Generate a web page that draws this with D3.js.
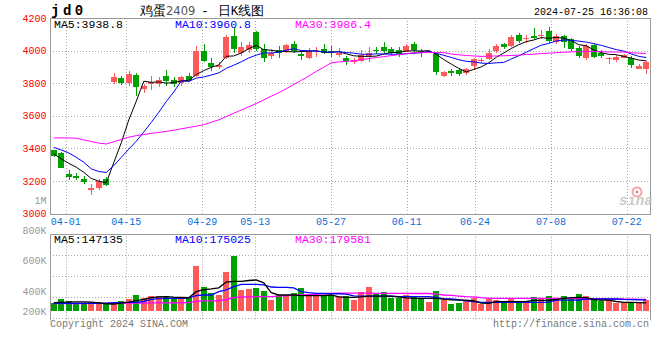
<!DOCTYPE html>
<html>
<head>
<meta charset="utf-8">
<script src="https://cdn.jsdelivr.net/npm/d3@7"></script>
<style>
  body { margin: 0; background: #fff; }
  svg { display: block; }
  text { font-family: "Liberation Mono", "DejaVu Sans Mono", monospace; }
</style>
</head>
<body>
<div id="chart"></div>
<script>
/* CONSTANTS AND GLOBALS */
const width = 660, height = 360;
const left = 50, right = 650;
const pTop = 18, pBottom = 213.5;      // price panel
const vTop = 234.3, vBottom = 318.3;   // volume panel
const vBase = 311;                      // volume bars start here

// DATA
const dates = ["03-28","03-29","04-01","04-02","04-03","04-08","04-09","04-10","04-11","04-12",
  "04-15","04-16","04-17","04-18","04-19","04-22","04-23","04-24","04-25","04-26",
  "04-29","04-30","05-06","05-07","05-08","05-09","05-10","05-13","05-14","05-15",
  "05-16","05-17","05-20","05-21","05-22","05-23","05-24","05-27","05-28","05-29",
  "05-30","05-31","06-03","06-04","06-05","06-06","06-07","06-11","06-12","06-13",
  "06-14","06-17","06-18","06-19","06-20","06-21","06-24","06-25","06-26","06-27",
  "06-28","07-01","07-02","07-03","07-04","07-05","07-08","07-09","07-10","07-11",
  "07-12","07-15","07-16","07-17","07-18","07-19","07-22","07-23","07-24","07-25"];

const open = [3388,3370,3245,3232,3213,3143,3155,3213,3808,3832,3802,3850,3765,3795,3792,3845,3820,3798,3845,3845,
  3995,3925,3897,3953,4090,3985,4003,4115,4012,3965,4002,3998,4038,3982,3953,3995,4010,3995,3972,3953,
  3932,3937,3968,4005,4025,4010,4005,3994,4038,3995,3993,3978,3846,3876,3880,3862,3903,3936,3947,3998,
  4039,4030,4096,4070,4090,4088,4120,4055,4090,4073,4015,3952,4035,3988,3948,3944,3957,3953,3890,3890];
const high = [3392,3378,3265,3248,3230,3180,3210,3223,3860,3845,3875,3865,3795,3845,3835,3878,3835,3845,3865,4030,
  4043,3955,3928,4094,4145,4055,4055,4120,4040,4008,4030,4042,4058,4002,4018,4023,4040,4030,4015,3968,
  3957,4002,4023,4022,4053,4022,4022,4040,4050,4008,4005,3988,3876,3886,3896,3895,3957,3955,4008,4043,
  4049,4094,4110,4094,4141,4125,4145,4100,4095,4080,4030,4040,4043,4002,3960,3973,3980,3967,3915,3937];
const low = [3345,3278,3205,3208,3182,3112,3142,3170,3795,3790,3785,3723,3738,3755,3778,3785,3775,3785,3805,3838,
  3930,3876,3886,3950,3988,3967,3988,4000,3928,3948,3955,3988,3985,3942,3947,3963,3978,3960,3963,3910,
  3917,3927,3927,3978,3988,3972,3962,3990,3988,3963,3985,3851,3835,3845,3845,3850,3880,3925,3941,3988,
  4008,4025,4049,4049,4070,4070,4049,4039,4015,3998,3953,3943,3957,3957,3917,3927,3955,3896,3888,3859];
const close = [3352,3280,3225,3218,3192,3158,3202,3172,3838,3802,3858,3775,3785,3805,3818,3815,3795,3835,3822,3998,
  3933,3897,3912,4085,4008,4022,4035,4012,3955,3988,3985,4032,3998,3965,4000,4000,3988,3990,3985,3937,
  3940,3972,3988,3995,3998,3985,3980,4028,4002,3990,3998,3866,3870,3863,3856,3890,3947,3943,3988,4029,
  4020,4084,4060,4080,4080,4095,4060,4090,4055,4008,3968,4028,3963,3968,3957,3960,3972,3910,3908,3930];

const ma5 = [3366,3335,3308,3284,3253,3215,3199,3188,3312,3434,3574,3689,3812,3805,3808,3800,3804,3814,3817,3853,
  3877,3897,3912,3965,3967,3985,4012,4032,4006,4002,3995,3994,3992,3994,3996,3999,3990,3989,3993,3980,
  3968,3965,3964,3966,3979,3988,3989,3997,3999,3997,4000,3977,3945,3917,3891,3869,3885,3900,3925,3959,
  3985,4013,4036,4055,4065,4080,4075,4081,4076,4062,4036,4030,4004,3987,3977,3975,3964,3954,3942,3937];
const ma10 = [3406,3390,3372,3345,3315,3274,3258,3252,3294,3344,3395,3444,3500,3559,3621,3687,3746,3813,3811,3831,
  3838,3850,3863,3891,3910,3931,3955,3972,3986,3985,3990,4003,4012,4000,3999,3997,3992,3990,3993,3988,
  3984,3978,3977,3980,3979,3978,3977,3981,3983,3988,3994,3983,3971,3958,3944,3934,3931,3923,3921,3925,
  3927,3949,3968,3990,4012,4033,4044,4059,4065,4063,4058,4052,4043,4032,4019,4006,3997,3979,3965,3957];
const ma30 = [3464,3464,3464,3462,3452,3442,3432,3427,3440,3455,3468,3478,3485,3492,3498,3504,3511,3520,3528,3536,
  3545,3560,3575,3595,3615,3635,3655,3675,3697,3720,3741,3766,3792,3817,3844,3872,3898,3925,3930,3934,
  3937,3944,3951,3957,3963,3969,3975,3981,3987,3987,3989,3988,3987,3979,3974,3970,3967,3964,3966,3967,
  3968,3970,3972,3976,3978,3982,3984,3987,3990,3992,3993,3995,3994,3993,3992,3991,3991,3987,3984,3982];

const volume = [143000,184000,165000,149000,149000,152000,152000,136000,139000,165000,
  184000,222000,196000,212000,212000,200000,184000,184000,200000,501000,
  301000,241000,222000,444000,596000,270000,279000,286000,260000,174000,
  222000,222000,241000,286000,212000,231000,212000,222000,212000,212000,
  174000,254000,301000,231000,248000,196000,196000,222000,200000,184000,
  158000,263000,174000,136000,149000,165000,196000,136000,184000,174000,
  165000,184000,165000,165000,206000,184000,215000,196000,215000,196000,
  231000,215000,184000,165000,174000,150000,142000,158000,148000,170000];

const volMa5 = [150000,152000,154000,156000,156000,154000,146000,138000,136000,145000,
  155000,169000,181000,196000,205000,206000,201000,198000,196000,254000,
  272000,280000,290000,345000,352000,352000,360000,365000,338000,245000,
  222000,222000,222000,216000,216000,216000,216000,222000,205000,200000,
  200000,205000,212000,212000,212000,212000,205000,195000,190000,190000,
  190000,190000,182000,176000,174000,174000,165000,145000,143000,158000,
  158000,158000,158000,160000,170000,171000,172000,180000,190000,196000,
  198000,196000,178000,174000,174000,160000,152000,152000,150000,147000];
const volMa10 = [143000,143000,143000,143000,143000,143000,143000,145000,148000,150000,
  152000,152000,160000,180000,188000,190000,190000,190000,195000,215000,
  222000,222000,254000,270000,301000,324000,324000,324000,318000,298000,
  295000,295000,290000,254000,245000,238000,236000,234000,234000,230000,
  214000,212000,212000,212000,212000,210000,206000,206000,206000,206000,
  206000,200000,184000,184000,178000,165000,160000,152000,152000,152000,
  152000,152000,152000,152000,152000,152000,155000,174000,174000,174000,
  174000,184000,184000,184000,184000,184000,180000,178000,176000,175000];
const volMa30 = [140000,140000,140000,141000,141000,142000,142000,143000,143000,144000,
  144000,145000,145000,146000,146000,147000,148000,148000,150000,162000,
  165000,166000,167000,178000,198000,202000,204000,206000,206000,206000,
  212000,215000,218000,222000,226000,230000,234000,238000,240000,240000,
  240000,240000,240000,238000,238000,238000,238000,238000,236000,236000,
  236000,230000,222000,218000,212000,206000,204000,196000,190000,190000,
  190000,190000,190000,190000,190000,190000,190000,190000,190000,190000,
  186000,186000,185000,185000,184000,184000,183000,182000,181000,180000];

const priceTicks = [4200, 4000, 3800, 3600, 3400, 3200, 3000];
const dateTicks = ["04-01","04-15","04-29","05-13","05-27","06-11","06-24","07-08","07-22"];
const volGridValues = [600000, 400000, 200000];
const volTickLabels = ["800K", "600K", "400K", "200K"];
const volLabelY = [234.3, 264.3, 295, 315];   // where the picture puts them

const red = "#ff5a5a", green = "#00a000";
const gridColor = "#a8a8a8", frameColor = "#999";

// SCALES
const xScale = d3.scaleBand().domain(dates).range([left, right]).paddingInner(0.2).paddingOuter(0.1);
const xTick = d3.scalePoint().domain(dates).range([50.5, 649.5]);
const yPrice = d3.scaleLinear().domain([3000, 4200]).range([pBottom, pTop]);
const yVol = d3.scaleLinear().domain([0, 800000]).range([vBottom, vTop]);

const bx = d => Math.round(xScale(d));
const center = d => xScale(d) + xScale.bandwidth() / 2;
const isUp = i => close[i] >= open[i];

const svg = d3.select("#chart").append("svg")
  .attr("width", width).attr("height", height);

//GRID
const grid = svg.append("g")
  .attr("stroke", gridColor).attr("stroke-width", 1).attr("stroke-dasharray", "1,2");

grid.selectAll(".hp").data(priceTicks.slice(1, -1)).join("line")
  .attr("x1", left).attr("x2", right)
  .attr("y1", d => Math.round(yPrice(d)) + 0.5).attr("y2", d => Math.round(yPrice(d)) + 0.5);

grid.selectAll(".vp").data(dateTicks).join("line")
  .attr("x1", d => Math.round(xTick(d)) + 0.5).attr("x2", d => Math.round(xTick(d)) + 0.5)
  .attr("y1", pTop).attr("y2", pBottom);

const volGrid = svg.append("g")
  .attr("stroke", gridColor).attr("stroke-width", 1).attr("stroke-dasharray", "1,2");

volGrid.selectAll(".hv").data(volGridValues.concat([0])).join("line")
  .attr("x1", left).attr("x2", right)
  .attr("y1", d => Math.round(yVol(d)) + 0.5).attr("y2", d => Math.round(yVol(d)) + 0.5);

volGrid.selectAll(".vv").data(dateTicks).join("line")
  .attr("x1", d => Math.round(xTick(d)) + 0.5).attr("x2", d => Math.round(xTick(d)) + 0.5)
  .attr("y1", vTop).attr("y2", vBottom + 2);

//FRAMES
svg.append("rect")
  .attr("x", left + 0.5).attr("y", pTop + 0.5)
  .attr("width", right - left).attr("height", Math.round(pBottom - pTop))
  .attr("fill", "none").attr("stroke", frameColor);

const vf = svg.append("g").attr("stroke", frameColor).attr("fill", "none");
vf.append("path").attr("d", `M${left + 0.5},${vBottom + 2}V${Math.round(vTop) + 0.5}H${right + 0.5}V${vBottom + 2}`);

// sina watermark
const logo = svg.append("g").attr("opacity", 0.8);
logo.append("circle").attr("cx", 637).attr("cy", 192).attr("r", 4.5)
  .attr("fill", "none").attr("stroke", "#f29090").attr("stroke-width", 2);
logo.append("circle").attr("cx", 637).attr("cy", 192).attr("r", 1.4).attr("fill", "#e06060");
logo.append("text").attr("x", 619).attr("y", 205)
  .attr("font-family", "DejaVu Sans").attr("font-style", "italic").attr("font-weight", "bold")
  .attr("font-size", 14).attr("fill", "#bdbdbd").text("sina");

//CANDLES
const idx = d3.range(dates.length);
const candles = svg.append("g");

candles.selectAll(".wick").data(idx).join("rect")
  .attr("x", i => bx(dates[i]) + 3)
  .attr("width", 1)
  .attr("y", i => Math.round(yPrice(high[i])))
  .attr("height", i => Math.max(1, Math.round(yPrice(low[i])) - Math.round(yPrice(high[i]))))
  .attr("fill", i => isUp(i) ? red : green);

candles.selectAll(".body").data(idx).join("rect")
  .attr("x", i => bx(dates[i]))
  .attr("width", Math.round(xScale.bandwidth()))
  .attr("y", i => Math.round(yPrice(Math.max(open[i], close[i]))))
  .attr("height", i => Math.max(1, Math.round(yPrice(Math.min(open[i], close[i]))) - Math.round(yPrice(Math.max(open[i], close[i])))))
  .attr("fill", i => isUp(i) ? red : green);

//PRICE MA LINES
const priceLine = d3.line()
  .x((d, i) => center(dates[i]))
  .y(d => yPrice(d));

[[ma5, "#000"], [ma10, "#0000ff"], [ma30, "#ff00ff"]].forEach(([series, color]) => {
  svg.append("path").datum(series)
    .attr("fill", "none").attr("stroke", color).attr("stroke-width", 1)
    .attr("d", priceLine);
});

//VOLUME BARS
svg.append("g").selectAll("rect").data(idx).join("rect")
  .attr("x", i => bx(dates[i]))
  .attr("width", Math.round(xScale.bandwidth()))
  .attr("y", i => Math.round(yVol(volume[i])))
  .attr("height", i => vBase - Math.round(yVol(volume[i])))
  .attr("fill", i => isUp(i) ? red : green);

const volLine = d3.line()
  .x((d, i) => center(dates[i]))
  .y(d => yVol(d));

[[volMa30, "#ff00ff"], [volMa10, "#0000ff"], [volMa5, "#000"]].forEach(([series, color]) => {
  svg.append("path").datum(series)
    .attr("fill", "none").attr("stroke", color).attr("stroke-width", 1.3)
    .attr("d", volLine);
});

//AXIS LABELS
svg.append("g").selectAll("text").data(priceTicks).join("text")
  .attr("x", 46.5).attr("y", d => yPrice(d) + 3.6)
  .attr("text-anchor", "end").attr("font-size", 10).attr("fill", "#ff0000")
  .text(d => d);

svg.append("text").attr("x", 46.5).attr("y", 204)
  .attr("text-anchor", "end").attr("font-size", 10).attr("fill", "#999").text("1M");

svg.append("g").selectAll("text").data(dateTicks).join("text")
  .attr("x", d => xTick(d)).attr("y", 224.5)
  .attr("text-anchor", "middle").attr("font-size", 10).attr("fill", "#0a6fd6")
  .text(d => d);

svg.append("g").selectAll("text").data(volTickLabels).join("text")
  .attr("x", 46.5).attr("y", (d, i) => volLabelY[i])
  .attr("text-anchor", "end").attr("font-size", 10).attr("fill", "#999")
  .text(d => d);

//LEGENDS
const legend = (y, items) => {
  svg.append("g").selectAll("text").data(items).join("text")
    .attr("x", d => d.x).attr("y", y)
    .attr("font-size", 11.5).attr("fill", d => d.color)
    .text(d => d.label);
};
legend(27.5, [
  {x: 54, color: "#000", label: "MA5:3938.8"},
  {x: 175, color: "#0000ff", label: "MA10:3960.8"},
  {x: 295, color: "#ff00ff", label: "MA30:3986.4"}
]);
legend(242.5, [
  {x: 54, color: "#000", label: "MA5:147135"},
  {x: 175, color: "#0000ff", label: "MA10:175025"},
  {x: 295, color: "#ff00ff", label: "MA30:179581"}
]);

//TITLE
svg.append("text").attr("x", 51).attr("y", 15)
  .attr("font-family", "DejaVu Sans Mono").attr("font-weight", "bold")
  .attr("font-size", 14).attr("letter-spacing", 3.5).attr("fill", "#000").text("jd0");

const title = svg.append("text").attr("x", 140).attr("y", 14.5)
  .attr("font-family", "Noto Sans CJK SC").attr("font-size", 12.5).attr("fill", "#000");
title.append("tspan").text("鸡蛋");
title.append("tspan").attr("fill", "#555").attr("font-family", "DejaVu Sans").attr("font-size", 11.5).text("2409");
title.append("tspan").attr("dx", 6).text("-");
title.append("tspan").attr("dx", 9).text("日K线图");

svg.append("text").attr("x", 648).attr("y", 15)
  .attr("text-anchor", "end").attr("font-size", 10).attr("fill", "#000")
  .text("2024-07-25 16:36:08");

//FOOTER
svg.append("text").attr("x", 50).attr("y", 326.7)
  .attr("font-size", 10).attr("fill", "#777").text("Copyright 2024 SINA.COM");
svg.append("text").attr("x", 649).attr("y", 326.7)
  .attr("text-anchor", "end").attr("font-size", 10).attr("fill", "#777")
  .text("http://finance.sina.com.cn");
</script>
</body>
</html>
